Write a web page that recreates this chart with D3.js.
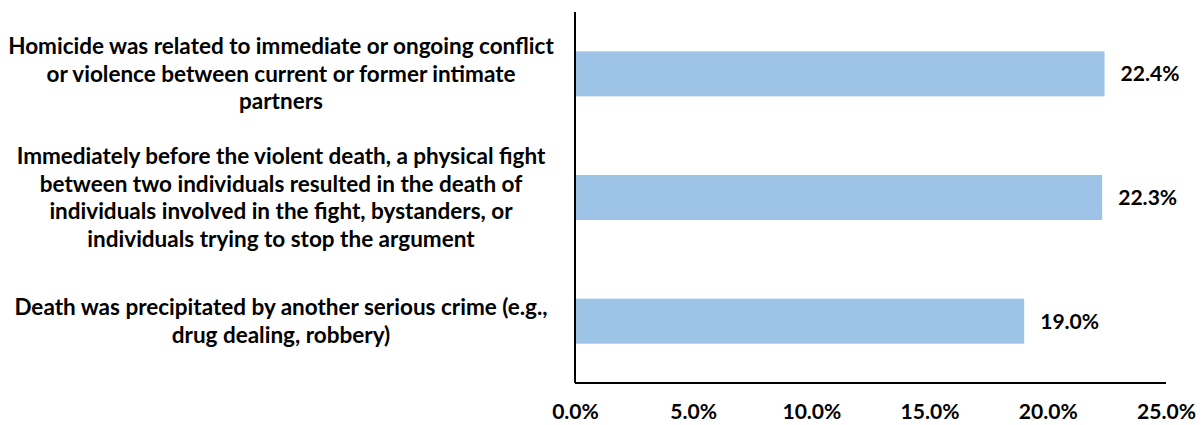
<!DOCTYPE html>
<html><head><meta charset="utf-8">
<script src="https://cdn.jsdelivr.net/npm/d3@7"></script>
<style>body{margin:0;background:#fff}svg{display:block}text{font-family:Lato,"Open Sans",sans-serif;font-weight:bold;fill:#000}</style>
</head><body>
<script>
const categories = [
  ["Homicide was related to immediate or ongoing conflict","or violence between current or former intimate","partners"],
  ["Immediately before the violent death, a physical fight","between two individuals resulted in the death of","individuals involved in the fight, bystanders, or","individuals trying to stop the argument"],
  ["Death was precipitated by another serious crime (e.g.,","drug dealing, robbery)"]
];
const values = [22.4, 22.3, 19.0];
const tickValues = [0, 5, 10, 15, 20, 25];

const W = 1204, H = 425;
const svg = d3.select("body").append("svg").attr("width", W).attr("height", H);
const x0 = 575, x1 = 1166, yTop = 12, yBot = 383;
const x = d3.scaleLinear().domain([0, 25]).range([x0, x1]);
const y = d3.scaleBand().domain(d3.range(values.length)).range([yTop, yBot]).paddingInner(0.636).paddingOuter(0.318);

// fit font sizes to reference text widths
function fitSize(str, target) {
  const t = svg.append("text").style("font-size","20px").text(str);
  const w = t.node().getComputedTextLength();
  t.remove();
  return 20 * target / w;
}
const labelSize = fitSize(categories[0][0], 546);
const numSize = fitSize("19.0%", 59);

svg.selectAll("rect.bar").data(values).join("rect").attr("class","bar")
  .attr("x", x(0)).attr("y", (d,i)=>y(i)).attr("width", d=>x(d)-x(0)).attr("height", y.bandwidth())
  .attr("fill", "#9DC3E6");

svg.selectAll("text.val").data(values).join("text").attr("class","val")
  .attr("x", d=>x(d)+16).attr("y", (d,i)=>y(i)+y.bandwidth()/2).attr("dy","0.35em")
  .style("font-size",numSize+"px").text(d=>d.toFixed(1)+"%");

// axes
const xAxis = d3.axisBottom(x).tickValues(tickValues).tickSize(0).tickPadding(21).tickFormat(d=>d.toFixed(1)+"%");
const gx = svg.append("g").attr("transform",`translate(0,${yBot})`).call(xAxis);
gx.select(".domain").attr("stroke","#000").attr("stroke-width",2).attr("d",`M${x0},0H${x1}`);
gx.selectAll("text").style("font-size",numSize+"px").style("font-family","Lato,sans-serif").style("font-weight","bold").attr("fill","#000");

const yAxis = d3.axisLeft(y).tickSize(0).tickFormat("");
const gy = svg.append("g").attr("transform",`translate(${x0},0)`).call(yAxis);
gy.select(".domain").attr("stroke","#000").attr("stroke-width",2).attr("d",`M0,${yTop}V${yBot}`);

// category labels
const lh = 27.5;
categories.forEach((lines,i)=>{
  const cy = y(i)+y.bandwidth()/2;
  const t = svg.append("text").attr("text-anchor","middle").style("font-size",labelSize+"px");
  lines.forEach((l,j)=>{
    t.append("tspan").attr("x", 281).attr("y", cy + (j-(lines.length-1)/2)*lh).attr("dy","0.35em").text(l);
  });
});
</script>
</body></html>
